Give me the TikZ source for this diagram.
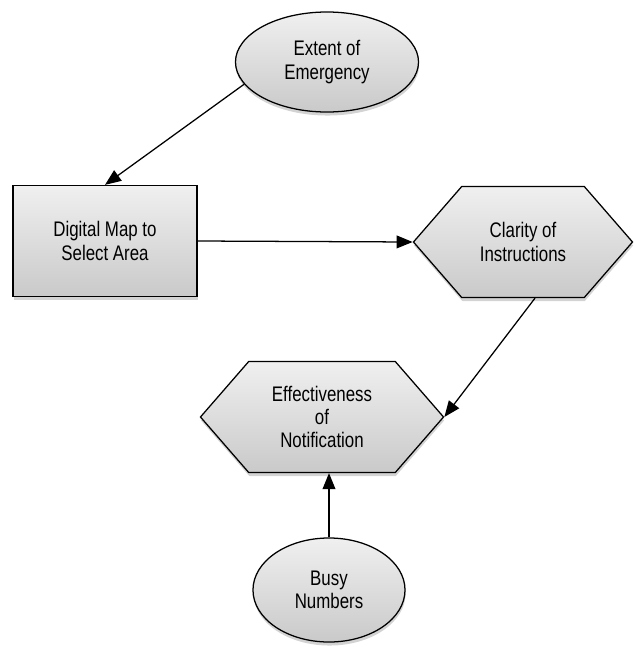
\documentclass[tikz,border=0pt]{standalone}
\usepackage{fontspec}
\setmainfont{Liberation Sans}[FakeStretch=0.8]
\usepackage{tikz}
\usetikzlibrary{shapes.geometric,shapes.symbols,shadows,arrows.meta}

\begin{document}
\begin{tikzpicture}[x=0.025cm, y=-0.025cm,
		box/.style={draw, line width=0.9pt, top color=gray!12, bottom color=gray!42,
			drop shadow={opacity=0.35, shadow xshift=0.4pt, shadow yshift=-2.5pt},
			align=center, inner sep=0pt, font=\fontsize{15}{16.5}\selectfont},
		oval/.style={box, ellipse},
		hexa/.style={box, signal, signal from=nowhere, signal to=east and west, signal pointer angle=98,
			minimum height=2.775cm},
		>={Triangle[length=4mm, width=3.2mm]}, line width=0.9pt]
			\useasboundingbox (0,0) rectangle (634,647);

			\node[oval, minimum width=4.575cm, minimum height=2.5cm] (ext) at (327,62) {Extent of\\Emergency};
			\node[box, rectangle, minimum width=4.6cm, minimum height=2.775cm] (map) at (105,241) {Digital Map to\\Select Area};
			\node[hexa, minimum width=5.475cm] (clar) at (523,242) {Clarity of\\Instructions};
			\node[hexa, minimum width=6.075cm] (eff) at (322,417) {Effectiveness\\of\\Notification};
			\node[oval, minimum width=3.8cm, minimum height=2.6cm] (busy) at (329,590) {Busy\\Numbers};

			\draw[->] (ext.195) to (map.north);
			\draw[->] (map.east) to (clar.west);
			\draw[->] ([xshift=3mm]clar.south) to (eff.east);
			\draw[->] (busy.north) to (busy.north |- eff.south);
		\end{tikzpicture}
\end{document}
